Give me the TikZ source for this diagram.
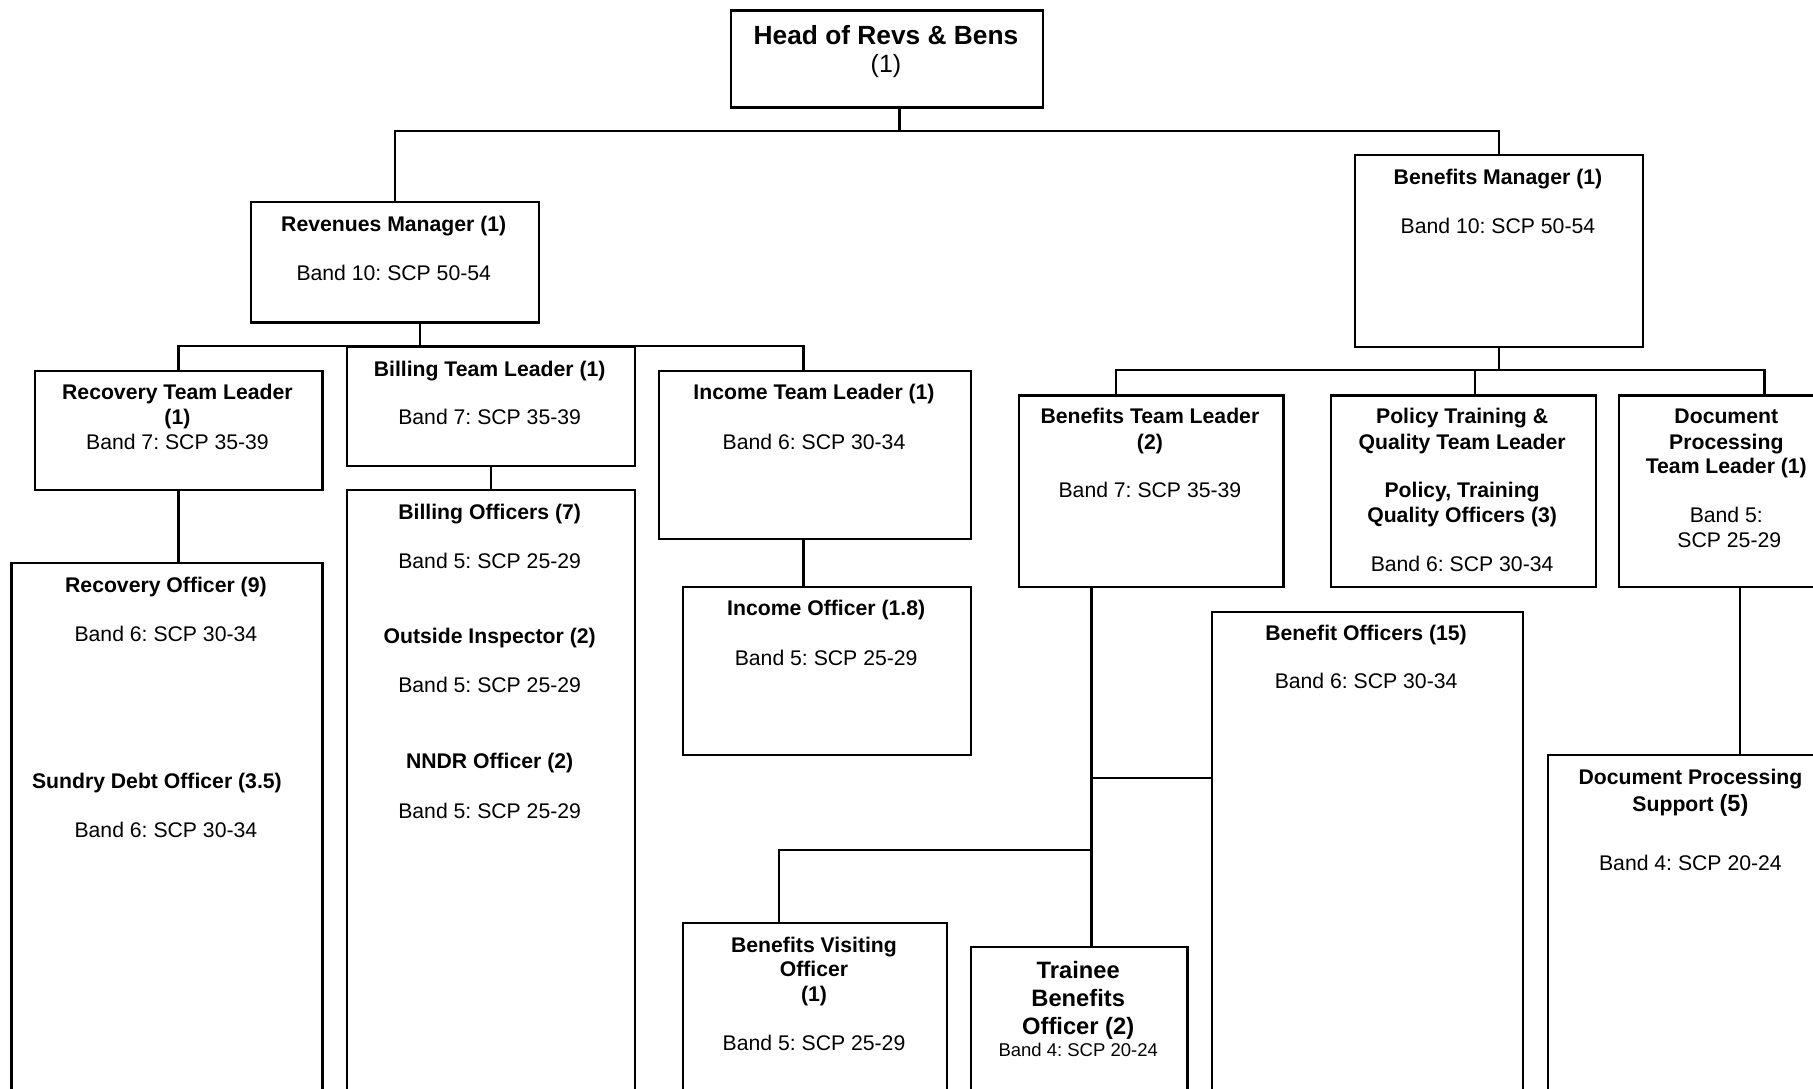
\documentclass[tikz,border=0pt]{standalone}
\usepackage{fontspec}
\setmainfont{Liberation Sans}
\frenchspacing
\newcommand\orgbox[5]{\node[box, minimum width={#4-#2}, minimum height={#5-#3}] (#1) at (#2,#3) {};}
\newcommand\tline[5]{\node[#4] (#1) at (#2,#3) {#5};}
\begin{document}
\begin{tikzpicture}[x=1pt,y=-1pt,
  box/.style={draw, line width=2.2pt, rectangle, inner sep=0pt, anchor=north west},
  conn/.style={line width=2.2pt},
  tb/.style={anchor=base, inner sep=0pt, font=\fontsize{21.2}{25}\selectfont\bfseries},
  tr/.style={anchor=base, inner sep=0pt, font=\fontsize{21.2}{25}\selectfont},
  hb/.style={anchor=base, inner sep=0pt, font=\fontsize{26.3}{30}\selectfont\bfseries},
  hr/.style={anchor=base, inner sep=0pt, font=\fontsize{25}{30}\selectfont},
  bigb/.style={anchor=base, inner sep=0pt, font=\fontsize{23.7}{28}\selectfont\bfseries},
  smr/.style={anchor=base, inner sep=0pt, font=\fontsize{18.5}{22}\selectfont},
]
\useasboundingbox (0,0) rectangle (1813,1089);
\clip (0,0) rectangle (1813,1089);
\fill[white] (0,0) rectangle (1813,1089);

% boxes
\orgbox{head}{730}{9.5}{1042}{106.5}
\orgbox{rev}{249.8}{201.2}{537.7}{321.4}
\orgbox{bmgr}{1354}{153.8}{1641.9}{345.7}
\orgbox{rtl}{33.5}{370}{321.4}{489.1}
\orgbox{btl}{345.7}{345.7}{633.6}{464.8}
\orgbox{itl}{657.9}{370}{970.1}{537.7}
\orgbox{ro}{10.4}{561.9}{321.4}{1100}
\orgbox{bo}{345.7}{489.1}{633.6}{1100}
\orgbox{io}{682.2}{586.2}{970.1}{753.9}
\orgbox{btlb}{1017.5}{394.3}{1282.3}{586.2}
\orgbox{ptl}{1329.7}{394.3}{1594.5}{586.2}
\orgbox{dtl}{1617.6}{394.3}{1835}{586.2}
\orgbox{bof}{1210.6}{610.5}{1521.6}{1100}
\orgbox{dps}{1547.1}{753.9}{1835}{1100}
\orgbox{bvo}{682.2}{921.5}{945.8}{1100}
\orgbox{tbo}{970.1}{945.8}{1186.3}{1100}

% bus coordinates
\coordinate (bus1) at (0,130.7);
\coordinate (bus2) at (0,345.7);
\coordinate (bus3) at (0,370);
\coordinate (bus4) at (0,778.1);
\coordinate (bus5) at (0,849.8);

% connectors
\draw[conn] ([xshift=12.4pt]head.south) -- ([xshift=12.4pt]head.south |- bus1);
\draw[conn] (rev.north) -- (rev.north |- bus1) -- (bmgr.north |- bus1) -- (bmgr.north);
\draw[conn] ([xshift=24.9pt]rev.south) -- ([xshift=24.9pt]rev.south |- bus2);
\draw[conn] (rtl.north) -- (rtl.north |- bus2) -- ([xshift=-11.6pt]itl.north |- bus2) -- ([xshift=-11.6pt]itl.north);
\draw[conn] (rtl.south) -- (rtl.south |- ro.north);
\draw[conn] (btl.south) -- (btl.south |- bo.north);
\draw[conn] ([xshift=-11.6pt]itl.south) -- ([xshift=-11.6pt]itl.south |- io.north);
\draw[conn] (bmgr.south) -- (bmgr.south |- bus3);
\draw[conn] ([xshift=-35.3pt]btlb.north) -- ([xshift=-35.3pt]btlb.north |- bus3) -- ([xshift=37pt]dtl.north |- bus3) -- ([xshift=37pt]dtl.north);
\draw[conn] ([xshift=12.1pt]ptl.north) -- ([xshift=12.1pt]ptl.north |- bus3);
\draw[conn] ([xshift=-59.6pt]btlb.south) -- ([xshift=-59.6pt]btlb.south |- tbo.north);
\draw[conn] ([xshift=-59.6pt]btlb.south |- bus4) -- (bof.west |- bus4);
\draw[conn] ([xshift=-59.6pt]btlb.south |- bus5) -- ([xshift=-35.9pt]bvo.north |- bus5) -- ([xshift=-35.9pt]bvo.north);
\draw[conn] ([xshift=12.7pt]dtl.south) -- ([xshift=12.7pt]dtl.south |- dps.north);

% texts
\tline{headA}{886}{45}{hb}{Head of Revs \& Bens}
\tline{headB}{886}{72.5}{hr}{(1)}

\tline{revA}{393.75}{231.8}{tb}{Revenues Manager (1)}
\tline{revB}{393.75}{280.4}{tr}{Band 10: SCP 50-54}

\tline{bmA}{1497.95}{184.4}{tb}{Benefits Manager (1)}
\tline{bmB}{1497.95}{233}{tr}{Band 10: SCP 50-54}

\tline{rtlA}{177.45}{399.5}{tb}{Recovery Team Leader}
\tline{rtlB}{177.45}{424.9}{tb}{(1)}
\tline{rtlC}{177.45}{449.2}{tr}{Band 7: SCP 35-39}

\tline{btlA}{489.65}{376.3}{tb}{Billing Team Leader (1)}
\tline{btlB}{489.65}{424.9}{tr}{Band 7: SCP 35-39}

\tline{itlA}{814}{399.5}{tb}{Income Team Leader (1)}
\tline{itlB}{814}{449.2}{tr}{Band 6: SCP 30-34}

\tline{roA}{165.9}{592.6}{tb}{Recovery Officer (9)}
\tline{roB}{165.9}{641.1}{tr}{Band 6: SCP 30-34}
\tline{roC}{156.9}{788}{tb}{Sundry Debt Officer (3.5)}
\tline{roD}{165.9}{837.7}{tr}{Band 6: SCP 30-34}

\tline{boA}{489.65}{519.7}{tb}{Billing Officers (7)}
\tline{boB}{489.65}{568.3}{tr}{Band 5: SCP 25-29}
\tline{boC}{489.65}{643.4}{tb}{Outside Inspector (2)}
\tline{boD}{489.65}{692}{tr}{Band 5: SCP 25-29}
\tline{boE}{489.65}{768.3}{tb}{NNDR Officer (2)}
\tline{boF}{489.65}{818}{tr}{Band 5: SCP 25-29}

\tline{ioA}{826.15}{615.7}{tb}{Income Officer (1.8)}
\tline{ioB}{826.15}{665.4}{tr}{Band 5: SCP 25-29}

\tline{btlbA}{1149.9}{423.8}{tb}{Benefits Team Leader}
\tline{btlbB}{1149.9}{449.2}{tb}{(2)}
\tline{btlbC}{1149.9}{497.8}{tr}{Band 7: SCP 35-39}

\tline{ptlA}{1462.1}{423.8}{tb}{Policy Training \&}
\tline{ptlB}{1462.1}{449.2}{tb}{Quality Team Leader}
\tline{ptlC}{1462.1}{497.8}{tb}{Policy, Training}
\tline{ptlD}{1462.1}{522}{tb}{Quality Officers (3)}
\tline{ptlE}{1462.1}{571.8}{tr}{Band 6: SCP 30-34}

\tline{dtlA}{1726.3}{423.8}{tb}{Document}
\tline{dtlB}{1726.3}{449.2}{tb}{Processing}
\tline{dtlC}{1726.3}{473.5}{tb}{Team Leader (1)}
\tline{dtlD}{1726.3}{522}{tr}{Band 5:}
\tline{dtlE}{1729.3}{547.5}{tr}{SCP 25-29}

\tline{bofA}{1366.1}{640}{tb}{Benefit Officers (15)}
\tline{bofB}{1366.1}{688.5}{tr}{Band 6: SCP 30-34}

\tline{dpsA}{1690.4}{784.5}{tb}{Document Processing}
\tline{dpsB}{1690.4}{811.1}{tb}{Support {\fontsize{23.5}{28}\selectfont(5)}}
\tline{dpsC}{1690.4}{870.1}{tr}{Band 4: SCP 20-24}

\tline{bvoA}{814}{952.2}{tb}{Benefits Visiting}
\tline{bvoB}{814}{976.5}{tb}{Officer}
\tline{bvoC}{814}{1001.9}{tb}{(1)}
\tline{bvoD}{814}{1050.4}{tr}{Band 5: SCP 25-29}

\tline{tboA}{1078.2}{978.6}{bigb}{Trainee}
\tline{tboB}{1078.2}{1006.3}{bigb}{Benefits}
\tline{tboC}{1078.2}{1034.1}{bigb}{Officer (2)}
\tline{tboD}{1078.2}{1056.5}{smr}{Band 4: SCP 20-24}
\end{tikzpicture}
\end{document}
